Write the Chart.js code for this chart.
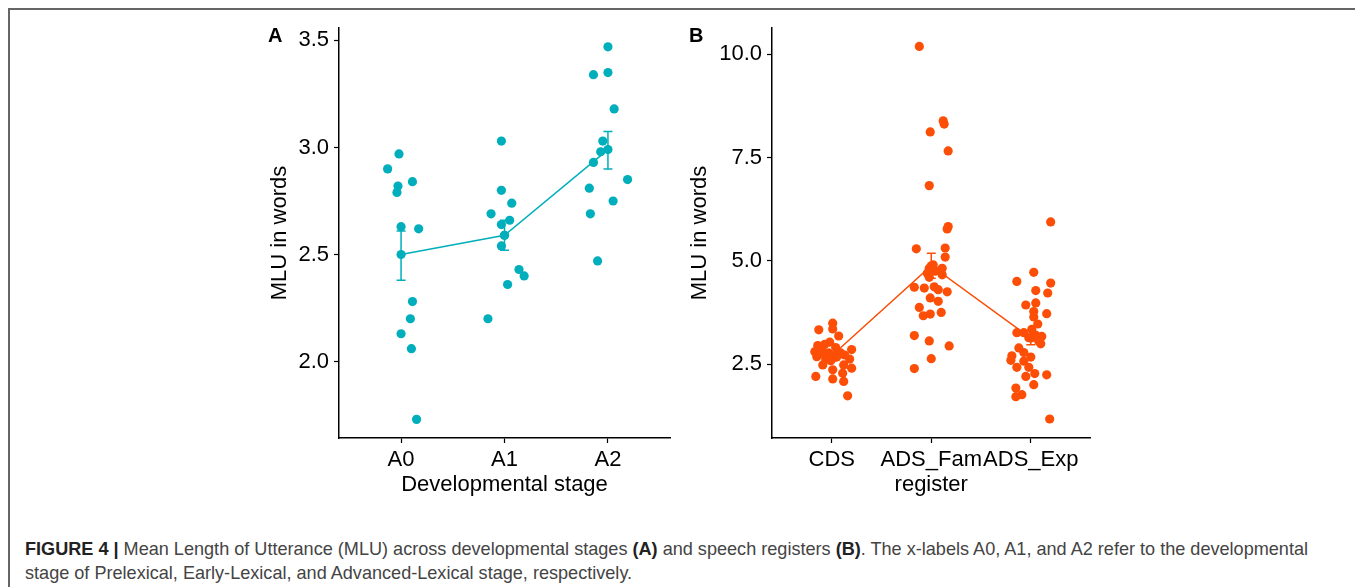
<!DOCTYPE html>
<html>
<head>
<meta charset="utf-8">
<script src="https://cdn.jsdelivr.net/npm/chart.js@4.4.1/dist/chart.umd.min.js"></script>
<style>
  html, body { margin: 0; padding: 0; background: #fff; }
  body { width: 1355px; height: 587px; position: relative; overflow: hidden; font-family: "Liberation Sans", Arial, sans-serif; }
  .frame { position: absolute; left: 8px; top: 8px; width: 1400px; height: 700px; border-top: 2px solid #666; border-left: 2px solid #666; }
  .panel { position: absolute; }
  .tag { position: absolute; font-weight: bold; font-size: 20px; line-height: 20px; color: #000; }
  .caption { position: absolute; left: 25px; top: 537px; font-size: 18.1px; line-height: 24px; color: #444; white-space: nowrap; }
  .caption b { color: #222; }
</style>
</head>
<body>
<div class="frame"></div>
<canvas id="chartA" class="panel" width="420" height="480" style="left:260px;top:20px"></canvas>
<canvas id="chartB" class="panel" width="420" height="480" style="left:680px;top:20px"></canvas>
<div class="tag" style="left:268px;top:25px">A</div>
<div class="tag" style="left:689px;top:25px">B</div>
<div class="caption"><b>FIGURE 4 |</b> Mean Length of Utterance (MLU) across developmental stages <b>(A)</b> and speech registers <b>(B)</b>. The x-labels A0, A1, and A2 refer to the developmental<br>stage of Prelexical, Early-Lexical, and Advanced-Lexical stage, respectively.</div>

<script>
// Panel A: developmental stage
const stagesA = ['A0', 'A1', 'A2'];
const yTicksA = [2.0, 2.5, 3.0, 3.5];
const a0X = [0.87, 0.98, 0.97, 0.96, 1.11, 1.00, 1.17, 1.11, 1.09, 1.00, 1.10, 1.15];
const a0Mlu = [2.90, 2.97, 2.82, 2.79, 2.84, 2.63, 2.62, 2.28, 2.20, 2.13, 2.06, 1.73];
const a1X = [0.97, 0.97, 1.07, 0.87, 0.97, 1.05, 0.97, 1.14, 1.19, 1.03, 0.84, 1.00];
const a1Mlu = [3.03, 2.80, 2.74, 2.69, 2.64, 2.66, 2.54, 2.43, 2.40, 2.36, 2.20, 2.59];
const a2X = [1.00, 0.86, 1.00, 1.06, 0.95, 0.93, 0.86, 0.82, 1.19, 1.05, 0.83, 0.90];
const a2Mlu = [3.47, 3.34, 3.35, 3.18, 3.03, 2.98, 2.93, 2.81, 2.85, 2.75, 2.69, 2.47];
const meanA = [2.50, 2.59, 2.99];
const lowA = [2.38, 2.52, 2.90];
const highA = [2.61, 2.66, 3.075];

// Panel B: register
const registersB = ['CDS', 'ADS_Fam', 'ADS_Exp'];
const yTicksB = [2.5, 5.0, 7.5, 10.0];
const cdsX = [1.01, 0.87, 1.01, 1.07, 0.98, 0.93, 0.86, 0.83, 1.20, 0.85, 0.97, 1.09, 1.02, 1.18, 0.91, 1.12,
  1.20, 1.01, 1.11, 0.84, 1.01, 1.12, 1.16, 0.96, 1.05, 0.99, 0.90, 1.04, 0.94, 1.13, 0.88];
const cdsMlu = [3.49, 3.33, 3.35, 3.18, 3.03, 2.98, 2.95, 2.80, 2.85, 2.68, 2.77, 2.77, 2.65, 2.62, 2.48, 2.48,
  2.40, 2.36, 2.28, 2.20, 2.14, 2.08, 1.73, 2.72, 2.67, 2.58, 2.88, 2.90, 2.62, 2.72, 2.75];
const famX = [0.88, 1.12, 1.13, 0.99, 1.17, 0.98, 1.17, 1.16, 0.85, 1.14, 1.14, 1.02, 0.98, 0.96, 1.11, 1.11,
  0.83, 0.93, 1.03, 1.07, 1.16, 0.99, 1.07, 0.88, 1.10, 0.92, 0.99, 0.83, 0.98, 1.18, 1.00, 0.83, 1.00, 0.98, 1.04];
const famMlu = [10.19, 8.39, 8.31, 8.12, 7.66, 6.82, 5.83, 5.77, 5.29, 5.31, 5.09, 4.90, 4.82, 4.70, 4.82, 4.66,
  4.36, 4.34, 4.37, 4.30, 4.25, 4.10, 4.02, 3.87, 3.75, 3.67, 3.71, 3.19, 3.06, 2.94, 2.63, 2.39, 4.85, 4.60, 4.75];
const expX = [1.20, 1.03, 0.86, 1.20, 1.05, 1.17, 0.95, 1.05, 1.03, 1.16, 1.03, 1.07, 0.86, 0.93, 1.01, 0.98,
  1.11, 1.10, 0.88, 0.81, 0.93, 1.00, 0.80, 0.93, 0.86, 0.98, 0.95, 1.04, 1.16, 1.03, 0.85, 0.91, 0.85, 1.19, 1.05, 1.08];
const expMlu = [5.94, 4.72, 4.50, 4.46, 4.28, 4.22, 3.93, 3.98, 3.77, 3.72, 3.64, 3.47, 3.26, 3.26, 3.34, 3.14,
  3.17, 2.99, 2.89, 2.70, 2.78, 2.67, 2.59, 2.57, 2.42, 2.42, 2.20, 2.27, 2.24, 2.00, 1.92, 1.76, 1.71, 1.17, 3.20, 3.05];
const meanB = [2.70, 4.88, 3.13];
const lowB = [2.62, 4.58, 2.97];
const highB = [2.79, 5.18, 3.29];

const TEAL = '#00AFBB';
const ORANGE = '#FC4E07';
const FONT = "'Liberation Sans', Arial, sans-serif";

// combine jitter positions and values into points for one category
const toPoints = (xs, ys, catIndex) => ys.map((y, i) => ({ x: catIndex + xs[i], y: y }));

// draws the mean +/- se bars through the chart scales
const errorBarPlugin = {
    id: 'errorBars',
    afterDatasetsDraw(chart, args, opts) {
        const { ctx, scales: { x, y } } = chart;
        ctx.save();
        ctx.strokeStyle = opts.color;
        ctx.lineWidth = 1.5;
        opts.low.forEach((lo, i) => {
            const px = x.getPixelForValue(i + 1);
            const top = y.getPixelForValue(opts.high[i]);
            const bot = y.getPixelForValue(lo);
            ctx.beginPath();
            ctx.moveTo(px, top); ctx.lineTo(px, bot);
            ctx.moveTo(px - 4.5, top); ctx.lineTo(px + 4.5, top);
            ctx.moveTo(px - 4.5, bot); ctx.lineTo(px + 4.5, bot);
            ctx.stroke();
        });
        ctx.restore();
    }
};

const makePanel = (canvasId, cfg) => {
    const datasets = cfg.groups.map(([xs, ys], i) => ({
        data: toPoints(xs, ys, i),
        backgroundColor: cfg.color,
        borderWidth: 0,
        pointRadius: 4.6
    }));
    datasets.push({
        data: cfg.means.map((m, i) => ({ x: i + 1, y: m })),
        showLine: true,
        borderColor: cfg.color,
        borderWidth: 1.5,
        backgroundColor: cfg.color,
        pointRadius: 4.6,
        pointBorderWidth: 0
    });

    new Chart(document.getElementById(canvasId), {
        type: 'scatter',
        data: { datasets: datasets },
        plugins: [errorBarPlugin],
        options: {
            responsive: false,
            animation: false,
            events: [],
            layout: { autoPadding: false, padding: { top: 8, right: cfg.rightPad, left: 0, bottom: 0 } },
            plugins: {
                legend: { display: false },
                tooltip: { enabled: false },
                errorBars: { low: cfg.low, high: cfg.high, color: cfg.color }
            },
            scales: {
                x: {
                    type: 'linear',
                    min: 0.4,
                    max: 3.6,
                    afterBuildTicks: (s) => { s.ticks = cfg.cats.map((c, i) => ({ value: i + 1 })); },
                    afterFit: (s) => { s.height = 62; s.paddingLeft = 0; s.paddingRight = 0; },
                    ticks: {
                        autoSkip: false, maxRotation: 0, minRotation: 0, padding: 4, color: '#000',
                        font: { family: FONT, size: 22 },
                        callback: (v) => cfg.cats[v - 1]
                    },
                    grid: { drawOnChartArea: false, drawTicks: true, tickLength: 5, tickColor: '#000', tickWidth: 1.2 },
                    border: { display: true, color: '#000', width: 1.5 },
                    title: { display: true, text: cfg.xTitle, color: '#000', font: { family: FONT, size: 22 }, padding: { top: 0, bottom: 2 } }
                },
                y: {
                    min: cfg.yMin,
                    max: cfg.yMax,
                    afterBuildTicks: (s) => { s.ticks = cfg.yTicks.map(v => ({ value: v })); },
                    afterFit: (s) => { s.width = cfg.yWidth; s.paddingTop = 0; s.paddingBottom = 0; },
                    ticks: {
                        padding: 5, color: '#000',
                        font: { family: FONT, size: 22 },
                        callback: (v) => Number(v).toFixed(1)
                    },
                    grid: { drawOnChartArea: false, drawTicks: true, tickLength: 5, tickColor: '#000', tickWidth: 1.2 },
                    border: { display: true, color: '#000', width: 1.5 },
                    title: { display: true, text: 'MLU in words', color: '#000', font: { family: FONT, size: 22 }, padding: { top: 7, bottom: 0 } }
                }
            }
        }
    });
};

makePanel('chartA', {
    cats: stagesA,
    groups: [[a0X, a0Mlu], [a1X, a1Mlu], [a2X, a2Mlu]],
    means: meanA, low: lowA, high: highA,
    color: TEAL,
    yMin: 1.643, yMax: 3.558, yTicks: yTicksA,
    yWidth: 79, rightPad: 10,
    xTitle: 'Developmental stage'
});

makePanel('chartB', {
    cats: registersB,
    groups: [[cdsX, cdsMlu], [famX, famMlu], [expX, expMlu]],
    means: meanB, low: lowB, high: highB,
    color: ORANGE,
    yMin: 0.71, yMax: 10.636, yTicks: yTicksB,
    yWidth: 92, rightPad: 9.5,
    xTitle: 'register'
});
</script>
</body>
</html>
